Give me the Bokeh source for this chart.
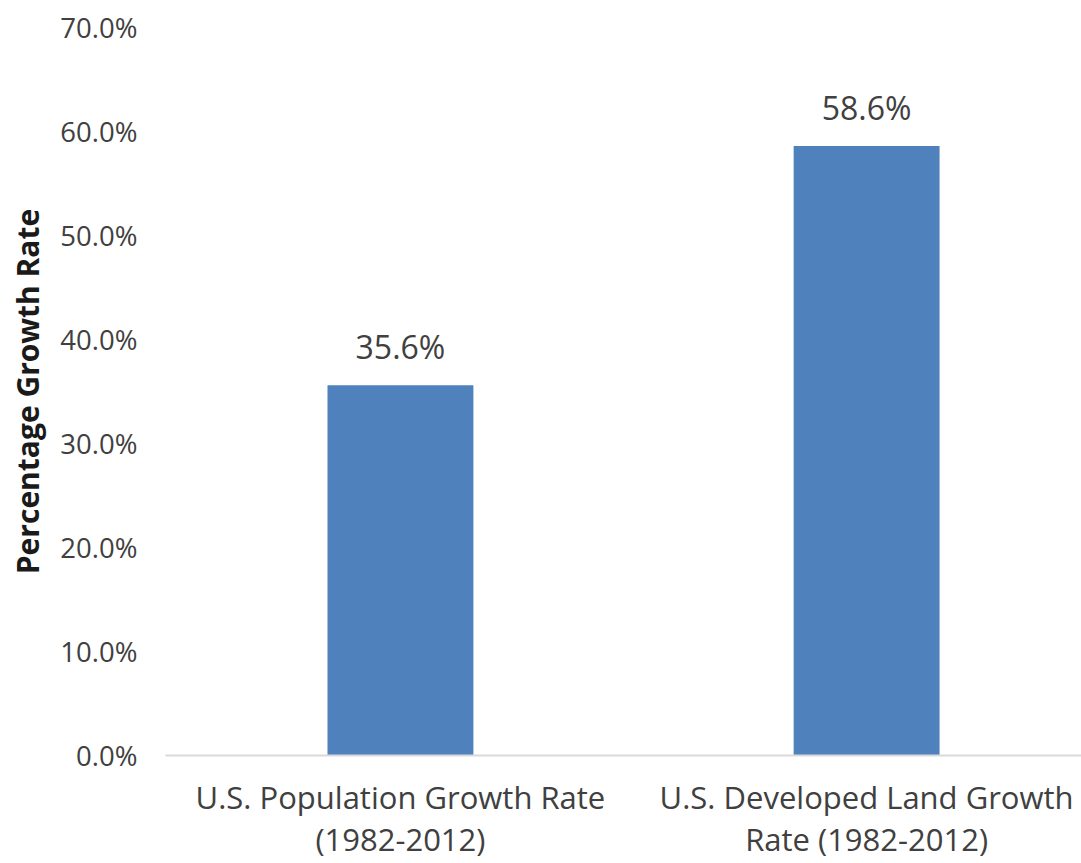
from bokeh.plotting import figure
from bokeh.models import Range1d, FixedTicker, NumeralTickFormatter, ColumnDataSource
from bokeh.core.properties import value
from bokeh.embed import file_html
from bokeh.resources import INLINE

categories = ["U.S. Population Growth Rate\n(1982-2012)",
              "U.S. Developed Land Growth\nRate (1982-2012)"]
growth = [0.356, 0.586]
value_labels = ["35.6%", "58.6%"]
y_ticks = [0.0, 0.1, 0.2, 0.3, 0.4, 0.5, 0.6, 0.7]

FONT = "Open Sans"
TXT = "#404040"

xs = list(range(len(categories)))
src = ColumnDataSource(dict(x=xs, top=growth, lab=value_labels))

p = figure(width=1081, height=863, output_backend="svg", toolbar_location=None,
           x_range=Range1d(-0.504, 1.461), y_range=Range1d(0, 0.7),
           min_border_left=165, min_border_right=0, min_border_top=27, min_border_bottom=106)
p.outline_line_color = None
p.grid.grid_line_color = None

p.vbar(x="x", top="top", width=0.313, source=src, fill_color="#4F81BD", line_color=None)
p.text(x="x", y="top", text="lab", source=src, y_offset=-39,
       text_align="center", text_baseline="alphabetic",
       text_font=value(FONT), text_font_size="32px", text_color=TXT)

ya = p.yaxis[0]
ya.ticker = FixedTicker(ticks=y_ticks)
ya.formatter = NumeralTickFormatter(format="0.0%")
ya.axis_line_color = None
ya.major_tick_line_color = None
ya.minor_tick_line_color = None
ya.major_tick_out = 0
ya.major_tick_in = 0
ya.major_label_standoff = 28
ya.major_label_text_font = FONT
ya.major_label_text_font_size = "27.5px"
ya.major_label_text_color = TXT
ya.axis_label = "Percentage Growth Rate"
ya.axis_label_text_font = FONT
ya.axis_label_text_font_size = "30px"
ya.axis_label_text_font_style = "bold"
ya.axis_label_text_color = "#1a1a1a"
ya.axis_label_standoff = 9

xa = p.xaxis[0]
xa.ticker = FixedTicker(ticks=xs)
xa.major_label_overrides = {i: c for i, c in enumerate(categories)}
xa.axis_line_color = "#d9d9d9"
xa.axis_line_width = 2
xa.major_tick_line_color = None
xa.minor_tick_line_color = None
xa.major_tick_out = 0
xa.major_tick_in = 0
xa.major_label_standoff = 20
xa.major_label_text_font = FONT
xa.major_label_text_font_size = "31px"
xa.major_label_text_line_height = 1.02
xa.major_label_text_color = TXT

open("out.html", "w").write(file_html(p, INLINE))
